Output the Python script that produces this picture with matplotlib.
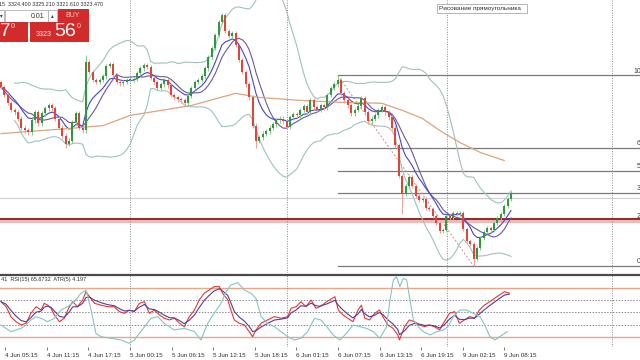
import matplotlib.pyplot as plt
from matplotlib.patches import Rectangle
import numpy as np
import pandas as pd

plt.rcParams['font.family'] = ['Liberation Sans', 'DejaVu Sans']

# close prices of each bar (left to right)
closes = [3367.0, 3363.7, 3360.4, 3357.5, 3356.6, 3354.1, 3350.4, 3349.2, 3348.4, 3353.3,
          3356.6, 3352.1, 3356.2, 3358.3, 3359.5, 3358.3, 3354.1, 3350.4, 3347.1, 3343.8,
          3345.0, 3352.5, 3356.2, 3350.4, 3349.2, 3377.3, 3373.2, 3369.9, 3369.1, 3369.9,
          3371.5, 3375.7, 3376.5, 3371.9, 3369.1, 3368.6, 3369.1, 3369.9, 3369.9, 3370.3,
          3372.8, 3374.8, 3376.1, 3375.3, 3370.7, 3369.1, 3366.6, 3368.2, 3369.9, 3367.8,
          3363.7, 3362.8, 3362.0, 3361.6, 3360.4, 3363.3, 3366.6, 3369.1, 3369.9, 3371.5,
          3374.8, 3379.4, 3383.1, 3388.5, 3393.9, 3396.8, 3390.2, 3388.1, 3389.3, 3384.4,
          3378.2, 3373.2, 3368.2, 3362.8, 3351.2, 3345.0, 3346.3, 3347.9, 3348.8, 3350.4,
          3351.7, 3353.3, 3354.1, 3352.9, 3350.8, 3354.6, 3355.8, 3355.4, 3357.5, 3359.1,
          3356.6, 3361.6, 3358.7, 3357.5, 3359.5, 3358.7, 3363.7, 3366.6, 3368.2, 3369.9,
          3364.5, 3361.6, 3359.5, 3356.2, 3357.5, 3359.1, 3362.4, 3356.6, 3352.9, 3354.1,
          3355.4, 3357.5, 3358.7, 3356.6, 3354.6, 3350.4, 3343.0, 3330.5, 3323.1, 3326.4,
          3330.1, 3326.4, 3322.3, 3320.6, 3321.0, 3317.3, 3316.9, 3314.0, 3311.1, 3307.8,
          3308.2, 3314.0, 3313.2, 3315.2, 3314.8, 3315.2, 3308.6, 3303.6, 3302.4, 3296.2,
          3300.7, 3304.9, 3307.4, 3309.0, 3308.2, 3311.1, 3313.2, 3314.8, 3318.1, 3321.0,
          3323.5]
first_open = 3369.0

# long wicks that stand out
spike_highs = {25: 3380.2, 65: 3397.6, 99: 3371.9}
spike_lows = {19: 3342.0, 75: 3342.1, 118: 3314.8, 139: 3293.3}

# slow moving average (orange), read at a few bars
slow_ma_bars = [0, 20, 30, 38, 56, 69, 76, 88, 100, 112, 118, 124, 129, 135, 141, 148]
slow_ma_vals = [3347.9, 3350.0, 3351.2, 3355.4, 3359.5, 3364.5, 3362.8, 3361.6, 3360.8,
                3360.4, 3357.5, 3354.1, 3349.2, 3344.2, 3340.1, 3336.8]

# RSI(15)
rsi_bars = [0, 1.5, 2.9, 4.4, 5.9, 7.4, 8.8, 10.3, 11.8, 12.7, 13.7, 14.7, 15.7, 17.2, 18.6,
            20.1, 21.1, 22.5, 24, 25, 26, 27.5, 29.4, 31.4, 33.3, 34.8, 36.3, 37.7, 39.2,
            40.7, 42.2, 43.6, 45.1, 46.6, 48, 49.5, 51, 52.5, 53.9, 55.4, 56.9, 58.3, 59.8,
            61.3, 62.7, 64.2, 65.2, 66.7, 67.6, 68.6, 70.1, 71.6, 73, 74, 75, 76.5, 78.4,
            80.4, 82.4, 84.3, 85.3, 86.8, 88.2, 89.7, 91.2, 92.6, 93.8, 95.8, 98.2, 99.2,
            100.6, 102, 103.5, 105, 106, 107, 108.4, 109.9, 111.3, 112.3, 113.8, 115.3,
            116.7, 117.2, 118.7, 120.1, 121.6, 123.1, 124.6, 126, 127.5, 129, 130.4, 131.9,
            133.4, 134.8, 136.3, 137.8, 139.3, 140.7, 142.2, 143.7, 145.2, 146.6, 148.1, 149.5]
rsi_vals = [58.8, 54.7, 46.6, 42.5, 39.8, 41.2, 49.3, 54.7, 52.0, 57.5, 56.0, 53.4, 48.0, 42.5,
            45.3, 54.7, 58.8, 54.7, 60.2, 67.0, 62.9, 57.5, 56.0, 54.7, 54.7, 50.7, 49.3, 52.0,
            50.7, 57.5, 58.8, 49.3, 52.0, 48.0, 45.3, 43.9, 45.3, 41.2, 38.4, 46.6, 52.0, 60.2,
            65.7, 68.4, 71.1, 71.1, 65.7, 60.2, 52.0, 43.9, 41.2, 39.8, 34.3, 30.2, 35.7, 41.2,
            43.9, 46.6, 45.3, 46.6, 53.4, 54.7, 58.8, 54.7, 60.2, 53.4, 54.7, 58.8, 62.9, 52.0,
            48.0, 45.3, 42.5, 52.0, 56.0, 45.3, 43.9, 49.3, 52.0, 46.6, 39.8, 37.1, 31.6, 27.6,
            38.4, 43.9, 42.5, 39.8, 38.4, 39.8, 38.4, 35.7, 42.5, 49.3, 50.7, 41.2, 43.9, 46.6,
            45.3, 52.0, 56.0, 58.8, 61.6, 64.3, 67.0, 65.7]

# ATR(5)
atr_bars = [0, 2.9, 5.9, 7.4, 8.8, 10.3, 11.8, 13.7, 15.7, 17.6, 19.6, 21.6, 23.5, 25, 26.5,
            27.9, 29.4, 32.4, 35.3, 37.7, 39.2, 42.2, 44.1, 46.1, 48, 51, 53.9, 56.9, 58.8,
            60.8, 62.7, 64.7, 66.2, 67.6, 69.6, 71.6, 73.5, 75, 76.5, 78.4, 80.4, 82.4, 84.3,
            86.3, 88.2, 90.2, 92.2, 94.1, 95.8, 97.7, 99.7, 101.6, 103.6, 105.6, 107.5, 109.5,
            111.4, 113.4, 114.4, 115.4, 116.3, 117.3, 118.3, 119.3, 120.3, 121.3, 122.7,
            124.2, 126.2, 128.1, 130.1, 131.5, 133, 135, 136.9, 138.9, 140.9, 142.3, 143.8,
            145.3, 146.7, 148.9]
atr_vals = [5.2, 4.2, 4.7, 5.2, 5.95, 6.45, 6.2, 5.7, 6.2, 7.45, 7.95, 8.7, 9.95, 10.45, 7.45,
            3.95, 3.45, 3.2, 2.95, 2.45, 2.95, 4.95, 6.2, 6.45, 5.45, 4.45, 4.7, 4.2, 2.95,
            5.45, 6.95, 8.45, 10.2, 11.2, 11.55, 10.45, 9.95, 9.2, 6.45, 5.45, 4.95, 4.2, 3.45,
            2.95, 3.2, 4.2, 6.2, 5.95, 4.95, 3.7, 2.95, 3.95, 5.2, 4.95, 4.7, 4.2, 3.2, 4.95,
            8.95, 11.95, 12.45, 10.95, 12.2, 11.95, 8.95, 5.95, 4.95, 4.2, 3.7, 4.2, 4.45,
            4.95, 6.45, 7.45, 7.45, 6.95, 6.45, 5.2, 3.45, 2.95, 3.45, 4.197]

# fibonacci retracement
fib_high, fib_high_bar = 3371.9, 99
fib_low, fib_low_bar = 3293.3, 139
fib_levels = [0.0, 23.6, 38.2, 50.0, 61.8, 100.0]
fib_labels = ["0.0", "23.6", "38.2", "50.0", "61.8", "100.0"]

zone_lo, zone_hi = 3311.2, 3312.6   # red rectangle
ask_line = 3321.4

time_labels = ["4 Jun 05:15", "4 Jun 11:15", "4 Jun 17:15", "5 Jun 00:15", "5 Jun 06:15",
               "5 Jun 12:15", "5 Jun 18:15", "6 Jun 01:15", "6 Jun 07:15", "6 Jun 13:15",
               "6 Jun 19:15", "9 Jun 02:15", "9 Jun 08:15"]
day_breaks = [37.9, 84.1, 131.2, 179.7]

ohlc_text = "15  3324.400 3325.210 3321.610 3323.470"
panel_text = "41  RSI(15) 65.6732  ATR(5) 4.197"

# ---- derived series ----
c = pd.Series(closes)
o = c.shift(1).fillna(first_open)
wick = 0.9
hi = np.maximum(o, c) + wick
lo = np.minimum(o, c) - wick
for k, v in spike_highs.items():
    hi[k] = v
for k, v in spike_lows.items():
    lo[k] = v
x = np.arange(len(c))

mid = c.rolling(20, min_periods=5).mean()
sd = c.rolling(20, min_periods=5).std(ddof=0)
ma_fast = c.ewm(span=8, adjust=False).mean()
ma_slow = c.rolling(10, min_periods=1).mean()
rsi_signal = pd.Series(rsi_vals).ewm(span=3, adjust=False).mean()

# ---- figure ----
W, H = 640, 360
fig = plt.figure(figsize=(6.4, 3.6), dpi=100)
fig.patch.set_facecolor('white')

def box(x0, y0, x1, y1):
    return [x0/W, 1 - y1/H, (x1 - x0)/W, (y1 - y0)/H]

px = 3.4  # pixels per bar
x_lo = -1/px
x_hi = x_lo + W/px

ax = fig.add_axes(box(0, 0, 640, 273))
ax.set_xlim(x_lo, x_hi)
ax.set_ylim(3290.4, 3403)
ax.axis('off')

# fib lines
rng = fib_high - fib_low
for lvl, lab in zip(fib_levels, fib_labels):
    yv = fib_low + rng*lvl/100
    ax.plot([fib_high_bar, x_hi + 5], [yv, yv], color='#7a7a7a', lw=0.9, zorder=1)
    ax.text(186.0 if lvl == 100 else 186.9, yv + 0.3, lab, fontsize=5, color='#404040',
            va='bottom', ha='left', clip_on=False)
ax.plot([fib_high_bar, fib_low_bar], [fib_high, fib_low], color='#c89090', lw=0.7,
        ls=(0, (2, 2)), zorder=1)

ax.axhline(ask_line, color='#cfcfcf', lw=0.8, zorder=1)
ax.axhspan(zone_lo, zone_hi, color='#e9bcbc', lw=0, zorder=1)
ax.axhline(zone_hi, color='#9b2424', lw=1.4, zorder=2)

for b in day_breaks:
    ax.axvline(b, color='#8a8a8a', lw=0.7, ls=(0, (1, 1.5)), zorder=1)

# bands and moving averages
ax.plot(x, mid + 2*sd, color='#9ec2be', lw=0.8, zorder=2)
ax.plot(x, mid - 2*sd, color='#9ec2be', lw=0.8, zorder=2)
ax.plot(x, ma_slow, color='#6a5a9a', lw=0.8, zorder=2)
ax.plot(x, ma_fast, color='#4646c8', lw=0.8, zorder=2)
ax.plot(slow_ma_bars, slow_ma_vals, color='#dba57e', lw=0.9, zorder=2)

# candles
up = c >= o
col = np.where(up, '#2f9a3c', '#e2443a')
wcol = np.where(up, '#8cc48f', '#eda09a')
ax.vlines(x, lo, hi, colors=wcol, lw=0.7, zorder=3)
body = np.maximum((c - o).abs(), 0.35)
ax.bar(x, body, bottom=np.minimum(o, c), width=0.62, color=col, lw=0, zorder=4)

# ---- indicator window ----
pan = fig.add_axes(box(0, 275, 640, 347))
pan.set_xlim(x_lo, x_hi)
pan.set_ylim(21.8, 80.6)
for s in ['left', 'right', 'bottom']:
    pan.spines[s].set_visible(False)
pan.spines['top'].set_color('#4a4a4a')
pan.spines['top'].set_linewidth(1.6)
pan.set_yticks([])
pan.axhline(70, color='#e6a888', lw=1.0)
pan.axhline(30, color='#e6a888', lw=1.0)
for lvl in [40, 50, 60]:
    pan.axhline(lvl, color='#8a8a8a', lw=0.7, ls=(0, (1.5, 1.5)))
for b in day_breaks:
    pan.axvline(b, color='#8a8a8a', lw=0.7, ls=(0, (1, 1.5)))
pan.plot(rsi_bars, rsi_vals, color='#e03a3a', lw=0.8)
pan.plot(rsi_bars, rsi_signal, color='#5a3c8c', lw=0.8)

# ATR on its own scale in the same window
pan2 = pan.twinx()
pan2.axis('off')
pan2.set_ylim(14.95 - 0.05*(347 - 260)*3, 14.95 - 0.05*(275 - 260)*3)
pan2.plot(atr_bars, atr_vals, color='#86c4c4', lw=0.8)

tick_bars = 1.2 + np.arange(len(time_labels))*12.24
pan.set_xticks(tick_bars)
pan.set_xticklabels(time_labels, fontsize=4.5, ha='left', color='#303030')
pan.tick_params(axis='x', length=2, width=0.6, pad=2.5, color='#606060')

fig.text(1/W, 1 - 280/H, panel_text, fontsize=4, va='center', color='#303030')

# ---- one-click trading panel ----
fig.text(-1/W, 1 - 5/H, ohlc_text, fontsize=3.9, va='center', color='#303030')

def rect(x0, y0, x1, y1, fc, ec='none'):
    fig.add_artist(Rectangle((x0/W, 1 - y1/H), (x1 - x0)/W, (y1 - y0)/H,
                             transform=fig.transFigure, fc=fc, ec=ec, lw=0.6))

rect(-2, 10, 4, 22, 'white', '#b0b0b0')
rect(5, 10, 48, 22, 'white', '#b0b0b0')
rect(48, 10, 57, 22, 'white', '#b0b0b0')
rect(58, 9, 89, 22, '#d12b2b')
rect(-2, 22, 28, 42, '#d12b2b')
rect(30, 22, 89, 42, '#d12b2b')
fig.text(0/W, 1 - 16/H, "▾", fontsize=4, va='center', color='#404040',
         family='DejaVu Sans')
fig.text(44/W, 1 - 16/H, "0.01", fontsize=5, va='center', ha='right', color='#303030')
fig.text(52.5/W, 1 - 15.5/H, "▴", fontsize=4, va='center', ha='center', color='#404040',
         family='DejaVu Sans')
fig.text(73/W, 1 - 15.5/H, "BUY", fontsize=5, va='center', ha='center', color='#f6c8c8')
fig.text(0/W, 1 - 32/H, "7", fontsize=13.5, va='center', color='white')
fig.text(10.5/W, 1 - 27/H, "0", fontsize=5, va='center', color='white')
fig.text(36/W, 1 - 34/H, "3323", fontsize=5, va='center', color='white')
fig.text(54/W, 1 - 31.5/H, "56", fontsize=14, va='center', color='white')
fig.text(77/W, 1 - 27/H, "0", fontsize=5, va='center', color='white')

# tooltip
rect(437, 4, 527, 13, 'white', '#a8a8a8')
fig.text(439/W, 1 - 8.5/H, "Рисование прямоугольника", fontsize=4.6, va='center',
         color='#303030')

fig.savefig("out.png", dpi=100)
